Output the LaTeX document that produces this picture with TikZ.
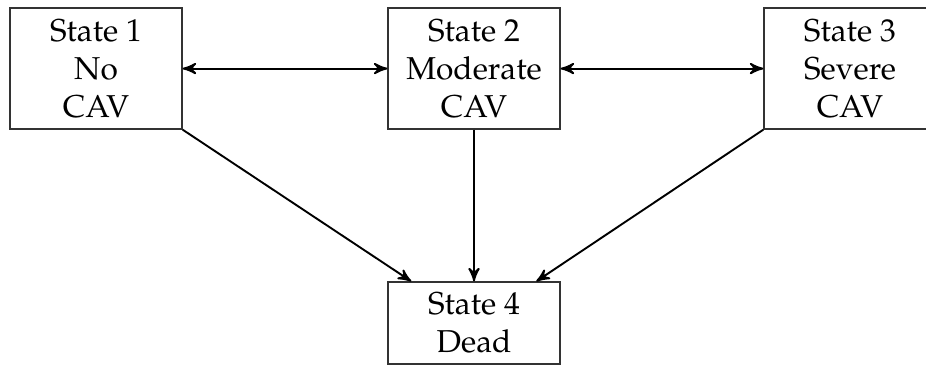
\documentclass[tikz,border=0pt]{standalone}
\usepackage[T1]{fontenc}
\usepackage{mathpazo}
\usetikzlibrary{arrows}

\begin{document}
\begin{tikzpicture}[
	zustand/.style={draw=black!80, thin, align=center, minimum width=1.911cm, minimum height=1.344cm, inner sep=2pt},
	tot/.style={zustand, minimum height=0.911cm},
	pfeil/.style={semithick, ->, >=stealth'}
	]

	\useasboundingbox (0, 0) rectangle (10.289, 4.056);
	\clip (0, 0) rectangle (10.289, 4.056);

	%Zustände
	\node [zustand] (s1) at (1.067, 3.294) {State 1\\No\\CAV};
	\node [zustand] (s2) at (5.267, 3.294) {State 2\\Moderate\\CAV};
	\node [zustand] (s3) at (9.444, 3.294) {State 3\\Severe\\CAV};
	\node [tot] (s4) at (5.267, 0.467) {State 4\\Dead};

	%Übergänge
	\draw [pfeil, <->] (s1) -- (s2);
	\draw [pfeil, <->] (s2) -- (s3);
	\draw [pfeil] (s1.south east) -- (s4);
	\draw [pfeil] (s2) -- (s4);
	\draw [pfeil] (s3.south west) -- (s4);

\end{tikzpicture}
\end{document}
